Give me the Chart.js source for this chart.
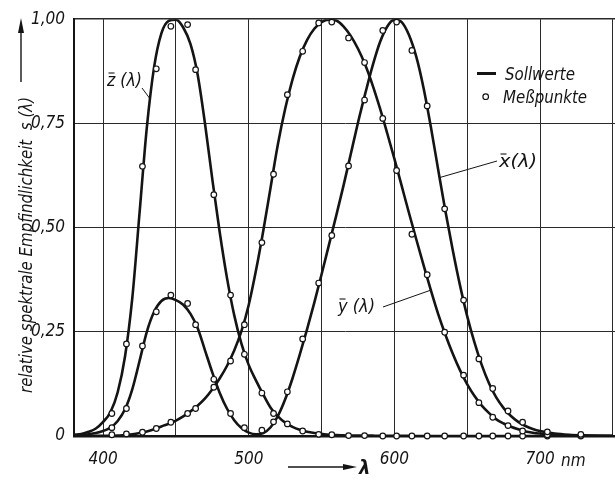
<!DOCTYPE html>
<html>
<head>
<meta charset="utf-8">
<script src="https://cdn.jsdelivr.net/npm/chart.js@4.4.1/dist/chart.umd.min.js"></script>
<style>
  html, body { margin: 0; background: #fff; overflow: hidden; }
  canvas { display: block; }
</style>
</head>
<body>
<!-- a little wider than the window: the plot runs off the right edge -->
<canvas id="curves" width="621" height="493"></canvas>
<script>
// wavelength grid of the target curves (nm)
const lambdaLine = [
  380, 385, 390, 395, 400, 405, 410, 415, 420, 425,
  430, 435, 440, 445, 450, 455, 460, 465, 470, 475,
  480, 485, 490, 495, 500, 505, 510, 515, 520, 525,
  530, 535, 540, 545, 550, 555, 560, 565, 570, 575,
  580, 585, 590, 595, 600, 605, 610, 615, 620, 625,
  630, 635, 640, 645, 650, 655, 660, 665, 670, 675,
  680, 685, 690, 695, 700, 710, 720, 730, 740, 750
];
const xBarLine = [
  0.001, 0.002, 0.004, 0.007, 0.012, 0.020, 0.036, 0.064, 0.112, 0.180,
  0.250, 0.298, 0.324, 0.331, 0.326, 0.315, 0.293, 0.258, 0.205, 0.152,
  0.104, 0.066, 0.038, 0.019, 0.008, 0.004, 0.007, 0.021, 0.048, 0.088,
  0.138, 0.195, 0.256, 0.320, 0.388, 0.458, 0.528, 0.600, 0.676, 0.752,
  0.822, 0.888, 0.944, 0.982, 0.999, 0.993, 0.962, 0.910, 0.835, 0.742,
  0.640, 0.540, 0.447, 0.362, 0.287, 0.224, 0.170, 0.126, 0.092, 0.067,
  0.048, 0.034, 0.024, 0.017, 0.012, 0.006, 0.003, 0.0015, 0.0007, 0.0003
];
const yBarLine = [
  0.0, 0.0001, 0.0001, 0.0002, 0.0004, 0.0006, 0.0012, 0.002, 0.004, 0.007,
  0.011, 0.016, 0.023, 0.029, 0.037, 0.047, 0.059, 0.073, 0.090, 0.112,
  0.138, 0.168, 0.205, 0.252, 0.315, 0.398, 0.493, 0.597, 0.700, 0.785,
  0.855, 0.910, 0.950, 0.977, 0.993, 0.999, 0.997, 0.983, 0.960, 0.929,
  0.890, 0.842, 0.787, 0.727, 0.665, 0.600, 0.535, 0.472, 0.410, 0.350,
  0.293, 0.243, 0.198, 0.158, 0.124, 0.096, 0.073, 0.055, 0.040, 0.030,
  0.022, 0.016, 0.011, 0.008, 0.006, 0.003, 0.0015, 0.0007, 0.0003, 0.0001
];
const zBarLine = [
  0.003, 0.005, 0.010, 0.018, 0.034, 0.057, 0.105, 0.190, 0.330, 0.535,
  0.740, 0.885, 0.966, 0.996, 0.999, 0.980, 0.940, 0.865, 0.748, 0.615,
  0.490, 0.380, 0.290, 0.221, 0.170, 0.133, 0.099, 0.068, 0.047, 0.032,
  0.022, 0.015, 0.010, 0.007, 0.005, 0.003, 0.002, 0.0015, 0.001, 0.001,
  0.001, 0.0008, 0.0006, 0.0005, 0.0004, 0.0003, 0.0002, 0.0001, 0.0001, 0,
  0, 0, 0, 0, 0, 0, 0, 0, 0, 0,
  0, 0, 0, 0, 0, 0, 0, 0, 0, 0
];

// measured points
const lambdaMeas = [
  406, 416, 427, 436.5, 446.5, 458, 463.5, 476, 487.5, 497,
  509, 517, 526.5, 537, 548, 557, 568.5, 579.5, 592, 601.5,
  612, 622.5, 634.5, 647.5, 658, 667.5, 678, 688, 705, 728
];
const xBarMeas = [
  0.020, 0.066, 0.216, 0.298, 0.338, 0.318, 0.267, 0.136, 0.054, 0.020,
  0.014, 0.034, 0.106, 0.233, 0.367, 0.481, 0.648, 0.806, 0.973, 0.993,
  0.925, 0.792, 0.545, 0.326, 0.185, 0.114, 0.060, 0.033, 0.010, 0.004
];
const yBarMeas = [
  0.003, 0.005, 0.009, 0.018, 0.033, 0.054, 0.066, 0.117, 0.180, 0.267,
  0.464, 0.628, 0.819, 0.923, 0.991, 0.993, 0.955, 0.896, 0.762, 0.637,
  0.484, 0.387, 0.249, 0.146, 0.080, 0.045, 0.025, 0.012, 0.003, 0.001
];
const zBarMeas = [
  0.054, 0.221, 0.647, 0.881, 0.983, 0.987, 0.879, 0.579, 0.338, 0.196,
  0.103, 0.054, 0.029, 0.012, 0.004, 0.003, 0.001, 0.001, 0, 0,
  0, 0, 0, 0, 0, 0, 0, 0, 0, 0
];

// axes
const xGrid = [400, 450, 500, 550, 600, 650, 700, 750];
const xTickLabels = { 400: '400', 500: '500', 600: '600', 700: '700' };
const yTicks = [0, 0.25, 0.5, 0.75, 1];
const yTickLabels = ['0', '0,25', '0,50', '0,75', '1,00'];

const legendLabels = ['Sollwerte', 'Meßpunkte'];
const yTitle = 'relative spektrale Empfindlichkeit  s (λ)';

const INK = '#141414';
const TICK_FONT = "'Liberation Sans Narrow', 'DejaVu Sans Condensed', sans-serif";
const TEXT_FONT = "'DejaVu Sans Condensed', 'Liberation Sans Narrow', sans-serif";

function pts(xs, ys) {
  return xs.map((x, i) => ({ x: x, y: ys[i] }));
}

function curve(label, ys) {
  return {
    label: label,
    data: pts(lambdaLine, ys),
    showLine: true,
    borderColor: INK,
    borderWidth: 2.6,
    pointRadius: 0,
    cubicInterpolationMode: 'monotone',
    order: 2
  };
}

function meas(label, ys) {
  return {
    label: label,
    data: pts(lambdaMeas, ys),
    showLine: false,
    pointStyle: 'circle',
    pointRadius: 2.8,
    pointBorderWidth: 1.2,
    pointBorderColor: INK,
    pointBackgroundColor: '#fff',
    clip: false,
    order: 1
  };
}

// text squeezed/stretched to a given length
function fitText(ctx, text, x, y, w, rot) {
  ctx.save();
  ctx.translate(x, y);
  if (rot) ctx.rotate(rot);
  const sx = w / ctx.measureText(text).width;
  ctx.scale(sx, 1);
  ctx.fillText(text, 0, 0);
  ctx.restore();
}

function line(ctx, x1, y1, x2, y2, lw) {
  ctx.lineWidth = lw;
  ctx.beginPath();
  ctx.moveTo(x1, y1);
  ctx.lineTo(x2, y2);
  ctx.stroke();
}

// curve name with a bar over the letter, plus a leader line to the curve
function curveLabel(ctx, xs, ys, letter, rest, tx, ty, w, lx, anchor) {
  ctx.font = 'italic 17px ' + TEXT_FONT;
  ctx.textAlign = 'left';
  ctx.textBaseline = 'alphabetic';
  fitText(ctx, letter + rest, tx, ty, w);
  line(ctx, tx + 1.5, ty - 13, tx + 7.5, ty - 13, 1.1);
  const px = xs.getPixelForValue(anchor[0]);
  const py = ys.getPixelForValue(anchor[1]);
  line(ctx, lx[0], lx[1], px, py, 1);
}

const annotations = {
  id: 'annotations',
  afterDraw(chart) {
    const ctx = chart.ctx;
    const xs = chart.scales.x, ys = chart.scales.y;
    ctx.save();
    ctx.fillStyle = INK;
    ctx.strokeStyle = INK;

    // legend
    line(ctx, 477, 73.5, 496, 73.5, 3);
    ctx.beginPath();
    ctx.arc(485.7, 96.7, 2.8, 0, Math.PI * 2);
    ctx.fillStyle = '#fff';
    ctx.fill();
    ctx.lineWidth = 1.2;
    ctx.stroke();
    ctx.fillStyle = INK;
    ctx.font = 'italic 17px ' + TEXT_FONT;
    ctx.textBaseline = 'alphabetic';
    fitText(ctx, legendLabels[0], 505, 80, 70);
    fitText(ctx, legendLabels[1], 503, 103, 84);

    // curve names
    curveLabel(ctx, xs, ys, 'z', ' (λ)', 107, 86, 35, [142, 88], [432, 0.81]);
    curveLabel(ctx, xs, ys, 'x', '(λ)', 499, 167, 38, [497, 161], [631, 0.62]);
    curveLabel(ctx, xs, ys, 'y', ' (λ)', 338, 312, 37, [383, 307], [625, 0.35]);

    // unit after the last tick
    ctx.font = 'italic 17px ' + TICK_FONT;
    ctx.textBaseline = 'alphabetic';
    ctx.fillText('nm', 561, 466);

    // y title with arrow
    ctx.font = 'italic 18px ' + TEXT_FONT;
    fitText(ctx, yTitle, 32, 393, 296, -Math.PI / 2);
    line(ctx, 21, 82, 21, 30, 1.4);
    ctx.beginPath();
    ctx.moveTo(21, 18);
    ctx.lineTo(18, 33);
    ctx.lineTo(24, 33);
    ctx.closePath();
    ctx.fill();

    // x title with arrow
    line(ctx, 288, 467, 345, 467, 1.4);
    ctx.beginPath();
    ctx.moveTo(357, 467);
    ctx.lineTo(343, 464);
    ctx.lineTo(343, 470);
    ctx.closePath();
    ctx.fill();
    ctx.font = 'italic bold 20px ' + TEXT_FONT;
    ctx.fillText('λ', 359, 474);

    ctx.restore();
  }
};

new Chart(document.getElementById('curves'), {
  type: 'scatter',
  data: {
    datasets: [
      curve('x', xBarLine),
      curve('y', yBarLine),
      curve('z', zBarLine),
      meas('x Meßpunkte', xBarMeas),
      meas('y Meßpunkte', yBarMeas),
      meas('z Meßpunkte', zBarMeas)
    ]
  },
  options: {
    responsive: false,
    animation: false,
    devicePixelRatio: 1,
    events: [],
    layout: { padding: { top: 17, right: 0, bottom: 0, left: 0 } },
    plugins: { legend: { display: false }, tooltip: { enabled: false } },
    scales: {
      x: {
        type: 'linear',
        min: 380,
        max: 752,
        afterBuildTicks: s => { s.ticks = xGrid.map(v => ({ value: v })); },
        afterFit: s => { s.height = 57; s.paddingRight = 0; },
        ticks: {
          autoSkip: false,
          maxRotation: 0,
          padding: 0,
          color: INK,
          font: { family: TICK_FONT, size: 17, style: 'italic' },
          callback: v => xTickLabels[v] || ''
        },
        // invisible tick marks only push the labels down
        grid: {
          color: '#2a2a2a',
          lineWidth: 1,
          drawTicks: true,
          tickLength: 13,
          tickColor: 'rgba(0,0,0,0)'
        },
        border: { color: INK, width: 2.5 }
      },
      y: {
        min: 0,
        max: 1,
        afterBuildTicks: s => { s.ticks = yTicks.map(v => ({ value: v })); },
        afterFit: s => { s.width = 74; },
        ticks: {
          padding: 9,
          color: INK,
          font: { family: TICK_FONT, size: 17, style: 'italic' },
          callback: (v, i) => yTickLabels[i]
        },
        grid: {
          color: '#2a2a2a',
          lineWidth: c => (c.tick && c.tick.value === 1 ? 1.6 : 1),
          drawTicks: false
        },
        border: { color: INK, width: 2 }
      }
    }
  },
  plugins: [annotations]
});
</script>
</body>
</html>
